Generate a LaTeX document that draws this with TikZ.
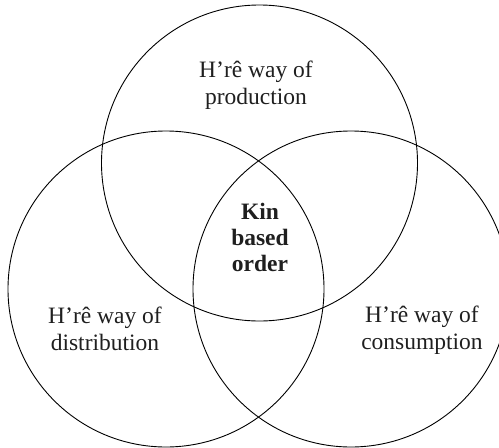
\documentclass[tikz,border=0pt]{standalone}
\usepackage{fontspec}
\setmainfont{Liberation Serif}
\begin{document}
\begin{tikzpicture}[x=1pt,y=-1pt,
  ring/.style={circle,draw=black,line width=0.9pt,minimum size=316pt,inner sep=0pt},
  label/.style={align=center,text=black!88,font=\fontsize{23.5}{26.5}\selectfont},
  core/.style={label,font=\fontsize{23.5}{26}\selectfont\bfseries}]
  \useasboundingbox (0,0) rectangle (499,448);
  % three overlapping spheres of the economy
  \node[ring] (prod) at (259.5,163) {};
  \node[ring] (dist) at (166,289) {};
  \node[ring] (cons) at (351,289) {};
  % labels
  \node[label] (tprod) at (256,85) {H’rê way of\\production};
  \node[label] (tdist) at (105,329) {H’rê way of\\distribution};
  \node[label] (tcons) at (422,330) {H’rê way of\\consumption};
  \node[core] (tkin) at (260,237) {Kin\\based\\order};
\end{tikzpicture}
\end{document}
